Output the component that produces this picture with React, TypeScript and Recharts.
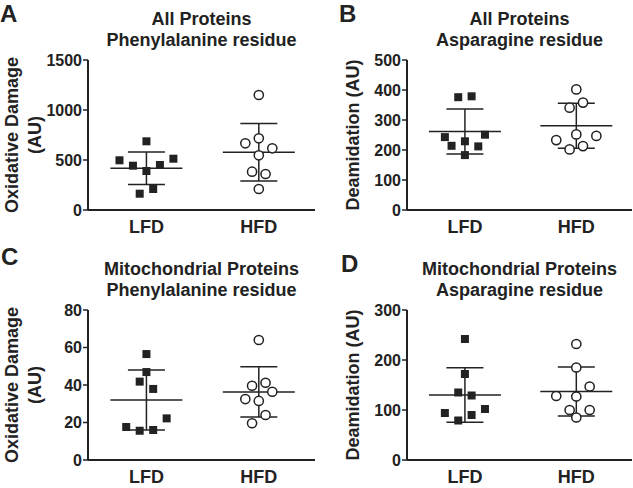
import { ScatterChart, Scatter, XAxis, YAxis, ErrorBar } from 'recharts';

const FONT = "'Liberation Sans', Arial, Helvetica, sans-serif";
const INK = '#222';

const groups = ['LFD', 'HFD'];
const slotStep = 0.12; // horizontal jitter step, in x-axis units

// A: All Proteins, Phenylalanine residue
const aTicks = [0, 500, 1000, 1500];
const aLfd = [687, 497, 443, 390, 450, 513, 210, 163];
const aLfdSlot = [0, -2, -1, 0, 1, 2, 0.5, -0.5];
const aHfd = [1150, 667, 717, 617, 547, 383, 360, 210];
const aHfdSlot = [0, -1, 0, 1, 0, -0.5, 0.5, 0];
const aMean = [417, 577];
const aSd = [163, 287];

// B: All Proteins, Asparagine residue
const bTicks = [0, 100, 200, 300, 400, 500];
const bLfd = [376, 379, 243, 214, 229, 251, 212, 183];
const bLfdSlot = [-0.5, 0.5, -1.5, -1, 0, 1.5, 1, 0];
const bHfd = [402, 341, 358, 252, 233, 247, 202, 213];
const bHfdSlot = [0, -0.5, 0.5, 0, -1.5, 1.5, -0.5, 0.5];
const bMean = [262, 281];
const bSd = [75, 75];

// C: Mitochondrial Proteins, Phenylalanine residue
const cTicks = [0, 20, 40, 60, 80];
const cLfd = [56.5, 46.9, 41.8, 37.9, 22.2, 17.6, 15.6, 16.0];
const cLfdSlot = [0, 0, -0.5, 0.5, 1.5, -1.5, -0.5, 0.5];
const cHfd = [64.0, 39.6, 41.2, 36.4, 32.5, 31.5, 24.0, 19.6];
const cHfdSlot = [0, -0.5, 0.5, 1, -1, 0, 0.5, -0.5];
const cMean = [32.0, 36.3];
const cSd = [16.0, 13.4];

// D: Mitochondrial Proteins, Asparagine residue
const dTicks = [0, 100, 200, 300];
const dLfd = [242, 172, 135, 129, 102, 94, 90, 79];
const dLfdSlot = [0, 0, -0.5, 0.5, 1.5, -1.5, 0.5, -0.5];
const dHfd = [232, 185, 147, 128, 127, 100, 100, 85];
const dHfdSlot = [0, 0, 1, -1.5, 0, -0.5, 1, 0];
const dMean = [130, 137];
const dSd = [54.5, 49];

const toPoints = (values: number[], slots: number[], group: number) =>
  values.map((v, i) => ({ x: group + slots[i] * slotStep, y: v }));

const MeanLine = (props: any) => (
  <line x1={props.cx - 36} x2={props.cx + 36} y1={props.cy} y2={props.cy} stroke={INK} strokeWidth={1.5} />
);

const SquareDot = (props: any) => (
  <rect x={props.cx - 4} y={props.cy - 4} width={8} height={8} fill={INK} />
);

const OpenDot = (props: any) => (
  <circle cx={props.cx} cy={props.cy} r={4.6} fill="#fff" stroke={INK} strokeWidth={1.5} />
);

interface PanelProps {
  left: number;
  top: number;
  width: number;
  title: string[];
  yLabel: string[];
  yLabelX: number[];
  ticks: number[];
  lfd: number[];
  lfdSlot: number[];
  hfd: number[];
  hfdSlot: number[];
  mean: number[];
  sd: number[];
}

function Panel({ left, top, width, title, yLabel, yLabelX, ticks, lfd, lfdSlot, hfd, hfdSlot, mean, sd }: PanelProps) {
  const plotLeft = 88;
  const plotWidth = width - plotLeft - 1;
  const meanData = mean.map((m, i) => ({ x: i + 1, y: m, sd: sd[i] }));

  return (
    <div style={{ position: 'absolute', left, top, width, height: 240 }}>
      <div
        style={{
          position: 'absolute',
          left: plotLeft,
          width: plotWidth,
          top: 9,
          textAlign: 'center',
          fontFamily: FONT,
          fontWeight: 'bold',
          fontSize: 18,
          lineHeight: '21px',
          color: INK,
        }}
      >
        {title.map(t => <div key={t}>{t}</div>)}
      </div>

      <svg width={60} height={240} style={{ position: 'absolute', left: 0, top: 0 }}>
        {yLabel.map((t, i) => (
          <text
            key={t}
            x={yLabelX[i]}
            y={135}
            transform={`rotate(-90 ${yLabelX[i]} 135)`}
            textAnchor="middle"
            dominantBaseline="central"
            fontFamily={FONT}
            fontWeight="bold"
            fontSize={18}
            fill={INK}
          >
            {t}
          </text>
        ))}
      </svg>

      <div style={{ position: 'absolute', left: 0, top: 0 }}>
        <ScatterChart width={width} height={240} margin={{ top: 60, right: 1, bottom: 0, left: 0 }}>
          <XAxis
            type="number"
            dataKey="x"
            domain={[0.48, 2.5]}
            ticks={[1, 2]}
            interval={0}
            tickFormatter={(v: number) => groups[v - 1]}
            height={30}
            tickLine={false}
            tickSize={6}
            tickMargin={4}
            axisLine={{ stroke: INK, strokeWidth: 2 }}
            tick={{ fontSize: 18, fontWeight: 'bold', fill: INK, fontFamily: FONT }}
          />
          <YAxis
            type="number"
            dataKey="y"
            domain={[0, ticks[ticks.length - 1]]}
            ticks={ticks}
            interval={0}
            width={plotLeft}
            tickSize={5}
            tickMargin={1}
            axisLine={{ stroke: INK, strokeWidth: 2 }}
            tickLine={{ stroke: INK, strokeWidth: 1.5 }}
            tick={{ fontSize: 16, fontWeight: 'bold', fill: INK, fontFamily: FONT }}
          />
          <Scatter data={meanData} shape={MeanLine} isAnimationActive={false}>
            <ErrorBar dataKey="sd" direction="y" width={18.5} stroke={INK} strokeWidth={1.5} />
          </Scatter>
          <Scatter data={toPoints(lfd, lfdSlot, 1)} shape={SquareDot} isAnimationActive={false} />
          <Scatter data={toPoints(hfd, hfdSlot, 2)} shape={OpenDot} isAnimationActive={false} />
        </ScatterChart>
      </div>
    </div>
  );
}

const letterStyle = {
  position: 'absolute' as const,
  fontFamily: FONT,
  fontWeight: 'bold' as const,
  fontSize: 24,
  lineHeight: '18px',
  color: INK,
};

export default function App() {
  return (
    <div style={{ position: 'absolute', left: 0, top: 0, width: 633, height: 488, background: '#fff', overflow: 'hidden' }}>
      <Panel
        left={0} top={0} width={316}
        title={['All Proteins', 'Phenylalanine residue']}
        yLabel={['Oxidative Damage', '(AU)']} yLabelX={[12, 35]}
        ticks={aTicks} lfd={aLfd} lfdSlot={aLfdSlot} hfd={aHfd} hfdSlot={aHfdSlot} mean={aMean} sd={aSd}
      />
      <Panel
        left={319} top={0} width={314}
        title={['All Proteins', 'Asparagine residue']}
        yLabel={['Deamidation (AU)']} yLabelX={[34]}
        ticks={bTicks} lfd={bLfd} lfdSlot={bLfdSlot} hfd={bHfd} hfdSlot={bHfdSlot} mean={bMean} sd={bSd}
      />
      <Panel
        left={0} top={250} width={316}
        title={['Mitochondrial Proteins', 'Phenylalanine residue']}
        yLabel={['Oxidative Damage', '(AU)']} yLabelX={[12, 35]}
        ticks={cTicks} lfd={cLfd} lfdSlot={cLfdSlot} hfd={cHfd} hfdSlot={cHfdSlot} mean={cMean} sd={cSd}
      />
      <Panel
        left={319} top={250} width={314}
        title={['Mitochondrial Proteins', 'Asparagine residue']}
        yLabel={['Deamidation (AU)']} yLabelX={[34]}
        ticks={dTicks} lfd={dLfd} lfdSlot={dLfdSlot} hfd={dHfd} hfdSlot={dHfdSlot} mean={dMean} sd={dSd}
      />
      <div style={{ ...letterStyle, left: 0, top: 5 }}>A</div>
      <div style={{ ...letterStyle, left: 339, top: 5 }}>B</div>
      <div style={{ ...letterStyle, left: 1, top: 248 }}>C</div>
      <div style={{ ...letterStyle, left: 341, top: 255 }}>D</div>
    </div>
  );
}
